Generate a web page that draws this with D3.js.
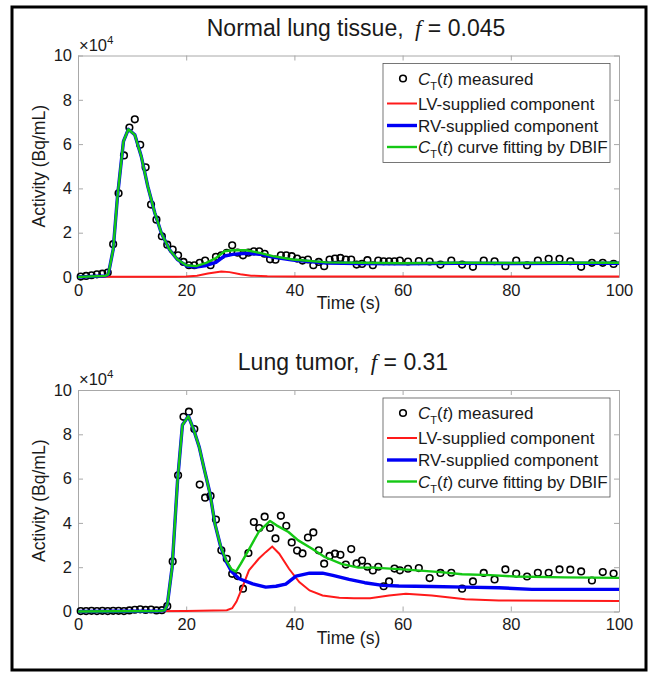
<!DOCTYPE html>
<html>
<head>
<meta charset="utf-8">
<script src="https://cdn.jsdelivr.net/npm/d3@7"></script>
<style>
body { margin: 0; background: #fff; }
svg text { font-family: "Liberation Sans", Arial, sans-serif; fill: #1a1a1a; }
</style>
</head>
<body>
<svg id="fig" width="650" height="675"></svg>
<script>
// frame mid-times (s): 1 s frames to 60 s, then 2 s frames
var frameTimes = [0.5,1.5,2.5,3.5,4.5,5.5,6.5,7.5,8.5,9.5,10.5,11.5,12.5,13.5,14.5,15.5,16.5,17.5,18.5,19.5,
    20.5,21.5,22.5,23.5,24.5,25.5,26.5,27.5,28.5,29.5,30.5,31.5,32.5,33.5,34.5,35.5,36.5,37.5,38.5,39.5,
    40.5,41.5,42.5,43.5,44.5,45.5,46.5,47.5,48.5,49.5,50.5,51.5,52.5,53.5,54.5,55.5,56.5,57.5,58.5,59.5,
    61,63,65,67,69,71,73,75,77,79,81,83,85,87,89,91,93,95,97,99];

// values in units of 1e4 Bq/mL
var normalMeasured = [0.02,0.05,0.08,0.12,0.15,0.2,1.48,3.78,5.49,6.75,7.12,5.97,4.95,3.27,2.59,1.84,1.46,1.24,0.98,0.68,
    0.53,0.53,0.64,0.74,0.53,0.91,0.98,1.09,1.43,1.1,0.98,1.1,1.16,1.16,1.05,0.8,0.78,0.98,0.98,0.94,
    0.83,0.74,0.79,0.53,0.68,0.49,0.79,0.83,0.86,0.79,0.79,0.56,0.59,0.76,0.53,0.74,0.71,0.71,0.71,0.74,
    0.70,0.72,0.70,0.56,0.74,0.56,0.46,0.74,0.71,0.49,0.74,0.53,0.74,0.82,0.82,0.71,0.46,0.64,0.64,0.59];

var tumorMeasured = [0.02,0.02,0.03,0.02,0.03,0.02,0.03,0.03,0.02,0.05,0.08,0.1,0.07,0.09,0.05,0.06,0.24,2.26,6.15,8.79,
    9.02,8.24,5.73,5.14,5.22,4.15,2.76,2.38,1.7,1.6,1.03,2.64,4.04,3.77,4.28,3.77,3.3,4.32,3.87,3.12,
    2.75,2.62,3.34,3.57,2.76,2.16,2.51,2.61,2.56,2.12,2.82,2.17,2.3,2.02,1.85,2.02,1.14,1.36,1.94,1.86,
    1.93,1.96,1.51,1.74,1.75,1.03,1.36,1.74,1.45,1.9,1.71,1.58,1.75,1.75,1.9,1.89,1.81,1.4,1.78,1.71];

// model curves (time knots, values)
var normalCurveTimes = [0,5,5.6,6.5,7.3,8.4,9.3,10.5,11.7,12.9,14.2,15.4,16.9,18.4,20,21.8,23.7,25.5,27.1,28.6,31.1,33.6,36,39.7,45.9,52,60,70,80,90,100];
var normalFit = [0,0.05,0.12,1.24,3.64,6.12,6.67,6.42,5.44,4.09,2.89,1.99,1.24,0.79,0.53,0.49,0.64,0.86,1.16,1.21,1.21,1.09,0.94,0.79,0.66,0.64,0.62,0.64,0.63,0.64,0.64];
var normalRV = [0,0.05,0.12,1.24,3.64,6.12,6.67,6.42,5.44,4.09,2.89,1.99,1.24,0.78,0.51,0.45,0.52,0.66,0.95,1.02,1.07,1.03,0.9,0.76,0.63,0.61,0.6,0.62,0.61,0.62,0.62];
var normalLVTimes = [0,18,20,22,24,26.5,28,30,32,35,40,100];
var normalLV = [0.01,0.01,0.02,0.06,0.16,0.25,0.22,0.12,0.06,0.03,0.02,0.02];

var tumorFitTimes = [0,15,16,16.5,17.4,18.4,19.3,20.4,21.4,22.4,23.3,24.4,25.3,26.4,27.4,28.4,29.2,30.1,31.5,33.4,
    35.5,36.7,38.9,40.7,43.2,45.6,48.7,51.8,54.6,60.8,67,71,76.2,80.9,90,100];
var tumorFit = [0,0.02,0.05,0.29,2.0,5.9,8.42,8.82,8.2,7.43,6.46,5.33,3.97,2.92,2.3,1.9,1.8,2.16,2.76,3.59,
    4.09,3.89,3.59,3.21,2.84,2.46,2.15,1.98,1.98,1.89,1.78,1.68,1.64,1.58,1.54,1.52];
var tumorRVTimes = [0,15,16,16.5,17.4,18.4,19.3,20.4,21.4,22.4,23.3,24.4,25.3,26.4,27.4,28.4,29.8,32.3,34.7,36.6,
    38.4,40.3,42.8,45.2,47.1,50.1,53,56.3,59.3,65.4,71.6,77.8,83.9,100];
var tumorRV = [0,0.02,0.05,0.29,2.0,5.9,8.42,8.82,8.2,7.43,6.46,5.33,3.97,2.9,2.25,1.8,1.48,1.25,1.1,1.14,
    1.24,1.6,1.73,1.73,1.63,1.45,1.3,1.18,1.15,1.13,1.1,1.07,1.0,1.0];
var tumorLVTimes = [0,20,27.5,28.5,29.3,30.4,31.6,33.4,34.7,35.9,37.2,39,40.9,42.8,45.2,48.3,51,54,57.5,60.6,65.4,71.6,77.8,100];
var tumorLV = [0,0.02,0.06,0.15,0.45,1.1,1.86,2.38,2.68,2.93,2.61,1.93,1.33,0.95,0.72,0.62,0.6,0.6,0.72,0.8,0.72,0.55,0.5,0.47];

var xTicks = [0,20,40,60,80,100];
var yTicks = [0,2,4,6,8,10];
var legendLabels = ["measured", "LV-supplied component", "RV-supplied component", "curve fitting by DBIF"];

var colLV = "#ff1a1a", colRV = "#0000f5", colFit = "#14c814", axisCol = "#a8a8a8";

var svg = d3.select("#fig");
svg.append("rect").attr("width", 650).attr("height", 675).attr("fill", "#fff");
svg.append("rect")
    .attr("x", 12).attr("y", 7).attr("width", 634).attr("height", 663)
    .attr("fill", "none").attr("stroke", "#000").attr("stroke-width", 3);

function zip(ts, vs) {
    return ts.map((t, i) => [t, vs[i]]);
}

function drawPanel(top, titleParts, titleX, measured, lv, rv, fit) {
    var bottom = top + 221.5;
    var x = d3.scaleLinear().domain([0, 100]).range([78, 619]);
    var y = d3.scaleLinear().domain([0, 10]).range([bottom, top]);
    var g = svg.append("g");

    // axes box with inward ticks
    g.append("g").attr("transform", "translate(0," + bottom + ")")
        .call(d3.axisBottom(x).tickValues(xTicks).tickSizeInner(-5).tickSizeOuter(0).tickPadding(7));
    g.append("g").attr("transform", "translate(0," + top + ")")
        .call(d3.axisTop(x).tickValues(xTicks).tickSizeInner(-5).tickSizeOuter(0).tickFormat(""));
    g.append("g").attr("transform", "translate(78,0)")
        .call(d3.axisLeft(y).tickValues(yTicks).tickSizeInner(-5).tickSizeOuter(0).tickPadding(6));
    g.append("g").attr("transform", "translate(619,0)")
        .call(d3.axisRight(y).tickValues(yTicks).tickSizeInner(-5).tickSizeOuter(0).tickFormat(""));
    g.selectAll(".domain, .tick line").attr("stroke", axisCol);
    g.selectAll(".tick text").attr("font-size", 16.5).attr("fill", "#1a1a1a")
        .attr("font-family", "Liberation Sans, Arial, sans-serif");

    // exponent label
    var ex = g.append("text").attr("x", 79).attr("y", top - 5).attr("font-size", 16.5);
    ex.append("tspan").text("\u00d710");
    ex.append("tspan").attr("font-size", 11.5).attr("dy", -7).text("4");

    // data
    g.selectAll(".pt").data(zip(frameTimes, measured)).enter().append("circle")
        .attr("cx", d => x(d[0])).attr("cy", d => y(d[1])).attr("r", 3.3)
        .attr("fill", "none").attr("stroke", "#000").attr("stroke-width", 1.6);

    var line = d3.line().x(d => x(d[0])).y(d => y(d[1]));
    g.append("path").datum(lv).attr("d", line).attr("fill", "none")
        .attr("stroke", colLV).attr("stroke-width", 2);
    g.append("path").datum(rv).attr("d", line).attr("fill", "none")
        .attr("stroke", colRV).attr("stroke-width", 3.4).attr("stroke-linejoin", "round");
    g.append("path").datum(fit).attr("d", line).attr("fill", "none")
        .attr("stroke", colFit).attr("stroke-width", 2.4).attr("stroke-linejoin", "round");

    // title
    var t = g.append("text").attr("x", titleX).attr("y", top - 20).attr("text-anchor", "middle").attr("font-size", 23);
    t.append("tspan").text(titleParts[0] + "\u2002");
    t.append("tspan").attr("font-family", "Liberation Serif, serif").attr("font-style", "italic").text("f");
    t.append("tspan").text(" = " + titleParts[1]);

    // axis labels
    g.append("text").attr("x", 348.5).attr("y", bottom + 32).attr("text-anchor", "middle")
        .attr("font-size", 17.5).text("Time (s)");
    g.append("text").attr("transform", "translate(45," + (top + bottom) / 2 + ") rotate(-90)")
        .attr("text-anchor", "middle").attr("font-size", 17.5).text("Activity (Bq/mL)");

    // legend
    var lg = g.append("g").attr("transform", "translate(383," + (top + 8) + ")");
    lg.append("rect").attr("width", 227).attr("height", 99).attr("fill", "#fff")
        .attr("stroke", "#555").attr("stroke-width", 0.8);
    var rows = [15, 40, 62, 83.5];
    lg.append("circle").attr("cx", 20).attr("cy", rows[0]).attr("r", 3.3)
        .attr("fill", "none").attr("stroke", "#000").attr("stroke-width", 1.6);
    [[colLV, 2], [colRV, 3.4], [colFit, 2.4]].forEach((c, i) => {
        lg.append("line").attr("x1", 4).attr("x2", 34).attr("y1", rows[i + 1]).attr("y2", rows[i + 1])
            .attr("stroke", c[0]).attr("stroke-width", c[1]);
    });
    legendLabels.forEach((lab, i) => {
        var tx = lg.append("text").attr("x", 35).attr("y", rows[i] + 6).attr("font-size", 17);
        if (i === 0 || i === 3) {
            tx.append("tspan").attr("font-style", "italic").text("C");
            tx.append("tspan").attr("font-size", 11).attr("dy", 5).text("T");
            tx.append("tspan").attr("dy", -5).text("(");
            tx.append("tspan").attr("font-style", "italic").text("t");
            tx.append("tspan").attr("letter-spacing", i === 3 ? -0.15 : 0).text(") " + lab);
        } else {
            tx.text(lab);
        }
    });
}

drawPanel(55.5, ["Normal lung tissue,", "0.045"], 356,
    normalMeasured, zip(normalLVTimes, normalLV), zip(normalCurveTimes, normalRV), zip(normalCurveTimes, normalFit));
drawPanel(390, ["Lung tumor,", "0.31"], 343,
    tumorMeasured, zip(tumorLVTimes, tumorLV), zip(tumorRVTimes, tumorRV), zip(tumorFitTimes, tumorFit));
</script>
</body>
</html>
